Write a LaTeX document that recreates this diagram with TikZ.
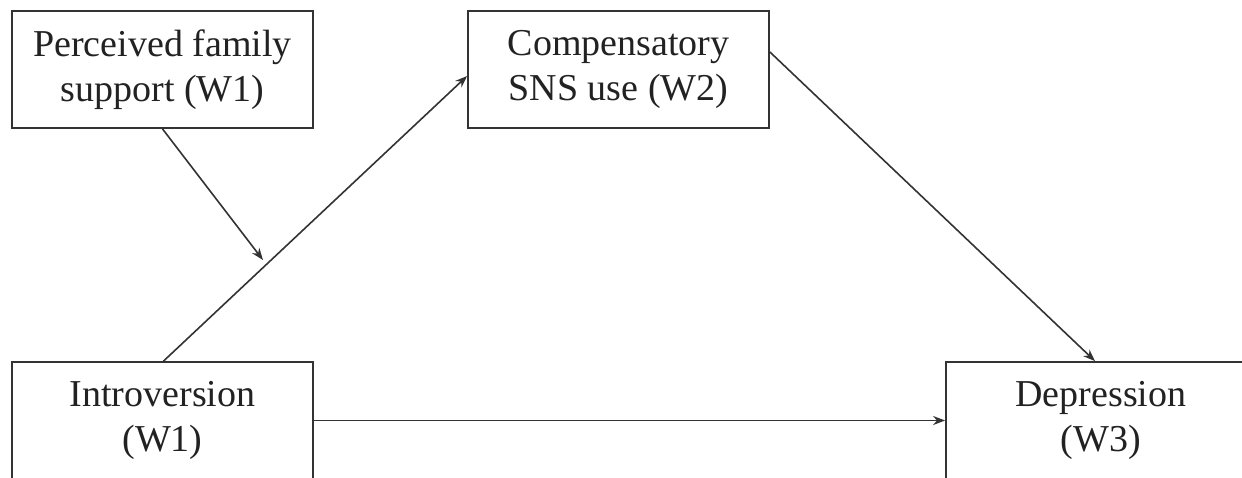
\documentclass[tikz,border=0pt]{standalone}
\usepackage{fontspec}
\setmainfont{Liberation Serif}
\usetikzlibrary{arrows.meta,calc}
\definecolor{ink}{HTML}{222222}
\definecolor{edge}{HTML}{333333}
\begin{document}
\begin{tikzpicture}[x=1pt,y=-1pt,
  box/.style={draw=edge,line width=1.8pt,minimum width=301pt,minimum height=117pt,
    inner sep=0pt,align=center,text=ink,font=\fontsize{38}{45}\selectfont},
  conn/.style={draw=edge,line width=1.6pt,-{Stealth[length=12pt,width=9pt]}}]
\useasboundingbox (0,0) rectangle (1242,477);
\clip (0,0) rectangle (1242,477);
\fill[white] (0,0) rectangle (1242,477);
\node[box] (pfs) at (162.5,69.5) {Perceived family\\support (W1)};
\node[box] (csns) at (618.5,69.5) {Compensatory\\SNS use (W2)};
\node[box] (intro) at (162.5,420.5) {Introversion\\(W1)};
\node[box,minimum width=310pt] (dep) at (1101,420.5) {Depression\\(W3)};
\coordinate (mod) at (263,260);
\draw[conn] ([xshift=1pt]intro.north) -- ([yshift=-6.5pt]csns.west);
\draw[conn] (pfs.south) -- (mod);
\draw[conn] ([yshift=17.5pt]csns.east) -- ([xshift=-6pt]dep.north);
\draw[conn] (intro.east) -- (dep.west);
\end{tikzpicture}
\end{document}
